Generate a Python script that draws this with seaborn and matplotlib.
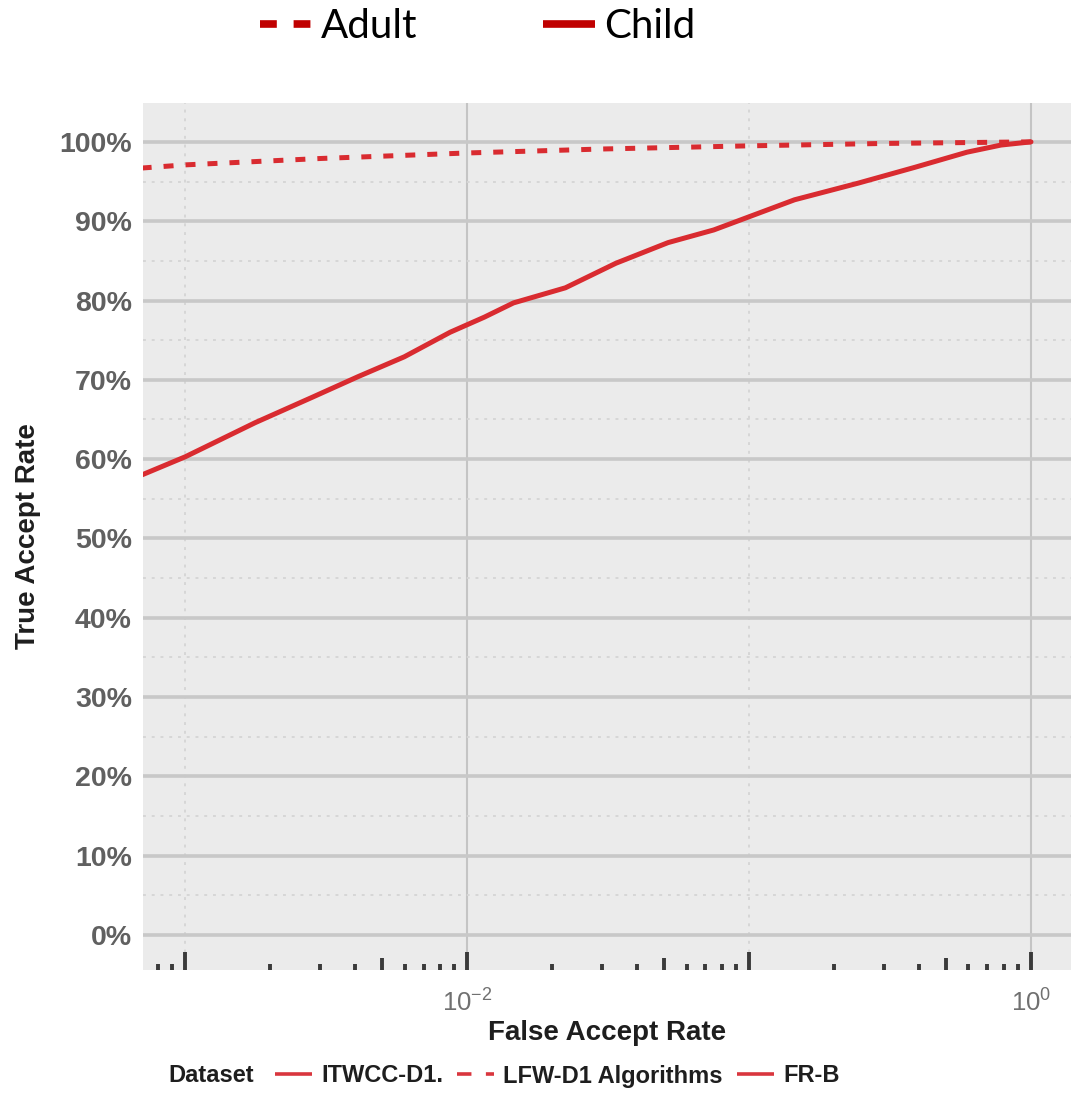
import numpy as np
import pandas as pd
import matplotlib
matplotlib.use("Agg")
import matplotlib.pyplot as plt
import seaborn as sns
from matplotlib.ticker import FixedLocator, PercentFormatter, LogFormatterSciNotation, NullFormatter
from matplotlib.lines import Line2D

# ROC data: false accept rate (log scale) vs true accept rate (%)
far_child = [7.0e-4, 1.0e-3, 1.77e-3, 2.82e-3, 4.1e-3, 5.98e-3, 8.7e-3, 1.15e-2,
             1.46e-2, 2.23e-2, 3.37e-2, 5.16e-2, 7.5e-2, 9.9e-2, 0.145, 0.244,
             0.388, 0.593, 0.783, 1.0]
tar_child = [58.0, 60.3, 64.6, 67.8, 70.4, 72.9, 76.0, 77.9,
             79.7, 81.6, 84.7, 87.3, 88.9, 90.5, 92.7, 94.8,
             96.8, 98.7, 99.6, 100.0]

far_adult = [7.0e-4, 1e-3, 3e-3, 1e-2, 3e-2, 1e-1, 0.3, 1.0]
tar_adult = [96.7, 97.1, 97.9, 98.6, 99.1, 99.5, 99.8, 100.0]

groups = ["Adult", "Child"]
dataset_labels = ["ITWCC-D1.", "LFW-D1 Algorithms", "FR-B"]
y_ticks = list(range(0, 101, 10))
y_minor = list(range(5, 100, 10))
x_major = [1e-4, 1e-2, 1e0]
x_minor = [1e-3, 1e-1]

line_red = "#D92B30"
legend_red = "#C00000"

df = pd.concat([
    pd.DataFrame({"far": far_adult, "tar": tar_adult, "group": "Adult"}),
    pd.DataFrame({"far": far_child, "tar": tar_child, "group": "Child"}),
])

sns.set_theme(style="darkgrid")
plt.rcParams["font.family"] = ["Liberation Sans", "DejaVu Sans"]

fig = plt.figure(figsize=(10.71, 10.95), dpi=100)
ax = fig.add_axes([143 / 1071, 1 - 970 / 1095, 1 - 143 / 1071, (970 - 103) / 1095])
ax.set_facecolor("#EBEBEB")

sns.lineplot(data=df, x="far", y="tar", hue="group", style="group",
             palette={"Adult": line_red, "Child": line_red},
             dashes={"Adult": (2, 2.4), "Child": ""},
             linewidth=3.6, legend=False, ax=ax, sort=True)

ax.set_xscale("log")
ax.set_xlim(10 ** -3.15, 10 ** 0.142)
ax.set_ylim(-4.4, 104.9)

ax.xaxis.set_major_locator(FixedLocator(x_major))
ax.xaxis.set_major_formatter(LogFormatterSciNotation())
ax.xaxis.set_minor_locator(FixedLocator(x_minor))
ax.xaxis.set_minor_formatter(NullFormatter())
ax.yaxis.set_major_locator(FixedLocator(y_ticks))
ax.yaxis.set_major_formatter(PercentFormatter(decimals=0))
ax.yaxis.set_minor_locator(FixedLocator(y_minor))

ax.grid(False)
ax.grid(axis="y", which="major", color="#C8C8C8", linewidth=2.6, linestyle="-")
ax.grid(axis="x", which="major", color="#C4C4C4", linewidth=1.5, linestyle="-")
ax.grid(axis="both", which="minor", color="#D6D6D6", linewidth=1.4, linestyle=(0, (1.5, 3)))
ax.set_axisbelow(True)
for s in ax.spines.values():
    s.set_visible(False)

ax.tick_params(axis="y", which="major", direction="out", length=4, width=1.5,
               color="#444444", pad=4, labelsize=20.5, labelcolor="#606060")
ax.tick_params(axis="x", which="major", direction="out", length=4, width=1.5,
               color="#444444", pad=10, labelsize=18.5, labelcolor="#707070")
ax.tick_params(which="minor", length=0)
for lab in ax.get_yticklabels():
    lab.set_fontweight("bold")

# log tick marks along the bottom edge (long at decades, medium at 5x, short otherwise)
xmin, xmax = ax.get_xlim()
tick_pos, tick_len = [], []
for d in range(-4, 1):
    for k in range(1, 10):
        v = k * 10.0 ** d
        if xmin <= v <= xmax:
            tick_pos.append(v)
            tick_len.append(0.021 if k == 1 else (0.014 if k == 5 else 0.007))
for v, L in zip(tick_pos, tick_len):
    ax.vlines(v, 0, L, transform=ax.get_xaxis_transform(), colors="#3A3A3A",
              linewidth=2.8, clip_on=False)

ax.set_xlabel("False Accept Rate", fontsize=20, fontweight="bold", color="#1E1E1E")
ax.xaxis.set_label_coords(0.5, (970 - 1033) / 867)
ax.xaxis.label.set_va("center")
ax.set_ylabel("True Accept Rate", fontsize=20, fontweight="bold", color="#1E1E1E")
ax.yaxis.set_label_coords((28 - 143) / 928, 0.5)
ax.yaxis.label.set_va("center")

# bottom dataset legend
fig.text(168 / 1071, 1 - 1076 / 1095, "Dataset", fontsize=17, fontweight="bold",
         color="#1E1E1E", ha="left", va="center")
ds_handles = [
    Line2D([], [], color="#D9363E", linewidth=2.6, solid_capstyle="butt"),
    Line2D([], [], color="#D9363E", linewidth=2.6, linestyle=(0, (4, 4))),
    Line2D([], [], color="#D9363E", linewidth=2.6, solid_capstyle="butt"),
]
leg_b = fig.legend(ds_handles, dataset_labels, loc="center left",
                   bbox_to_anchor=(275 / 1071, 1 - 1076 / 1095), ncol=3,
                   frameon=False, borderpad=0, borderaxespad=0,
                   handlelength=1.55, handletextpad=0.4, columnspacing=0.6,
                   prop={"family": "Liberation Sans", "weight": "bold", "size": 17})
for t in leg_b.get_texts():
    t.set_color("#1E1E1E")

# top group legend
grp_handles = [
    Line2D([], [], color=legend_red, linewidth=5.5, linestyle=(0, (2.2, 2.2)),
           dash_capstyle="butt"),
    Line2D([], [], color=legend_red, linewidth=5.5, solid_capstyle="butt"),
]
leg_t = fig.legend(grp_handles, groups, loc="center left",
                   bbox_to_anchor=(260 / 1071, 1 - 27 / 1095), ncol=2,
                   frameon=False, borderpad=0, borderaxespad=0,
                   handlelength=1.3, handletextpad=0.22, columnspacing=3.1,
                   prop={"family": "Lato", "size": 29})
for t in leg_t.get_texts():
    t.set_color("black")

fig.savefig("out.png", dpi=100, facecolor="white")
